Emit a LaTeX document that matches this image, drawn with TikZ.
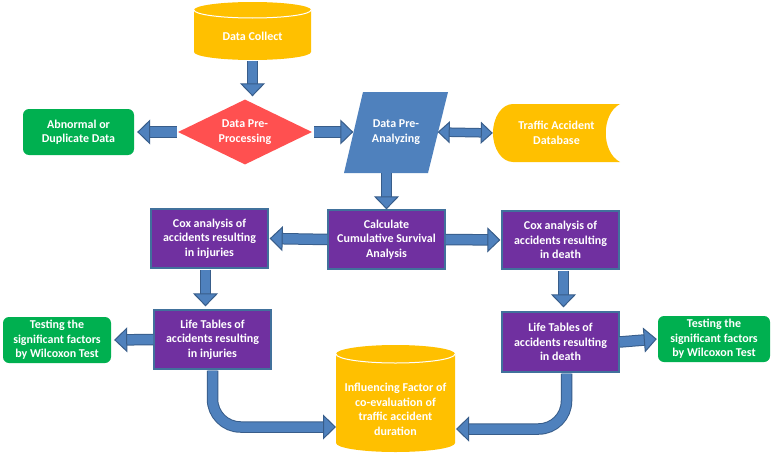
\documentclass[tikz,border=0pt]{standalone}
\usepackage{fontspec}
\setmainfont{Carlito}
\usetikzlibrary{arrows.meta,shapes.geometric,calc}
\definecolor{gold}{HTML}{FFC000}
\definecolor{blueA}{HTML}{4F81BD}
\definecolor{blueD}{HTML}{385D8A}
\definecolor{redD}{HTML}{FF5050}
\definecolor{greenB}{HTML}{00B050}
\definecolor{purp}{HTML}{7030A0}
\definecolor{purpline}{HTML}{41719C}
\tikzset{
  txt/.style={text=white, font=\bfseries\fontsize{12}{14.5}\selectfont, align=center, inner sep=0pt},
  purpbox/.style={txt, rectangle, fill=purp, draw=purpline, line width=1.3pt, minimum width=117pt, minimum height=59pt},
  greenbox/.style={txt, rectangle, rounded corners=6pt, fill=greenB, minimum height=46pt},
  blk/.style={draw=blueA, line width=9.5pt,
    -{Triangle[width=25pt,length=13pt,line width=1pt,color=blueD,fill=blueA]},
    preaction={draw=blueD, line width=11.5pt, -, shorten >=10pt}},
  dblk/.style={draw=blueA, line width=7.5pt,
    {Triangle[width=22pt,length=12pt,line width=1pt,color=blueD,fill=blueA]}-{Triangle[width=22pt,length=12pt,line width=1pt,color=blueD,fill=blueA]},
    preaction={draw=blueD, line width=9.5pt, -, shorten >=9pt, shorten <=9pt}},
}
\begin{document}
\begin{tikzpicture}[x=1pt,y=1pt]
\useasboundingbox[fill=white] (0,0) rectangle (771,-455);
% --- background shapes drawn directly ---
% Data Collect cylinder
\fill[gold] (194,-10) -- (194,-52) arc (180:360:58.5 and 8) -- (311,-10) arc (0:180:58.5 and 8) -- cycle;
\draw[white, line width=1pt] (194,-10) arc (180:360:58.5 and 8);
% Influencing cylinder
\fill[gold] (336,-354) -- (336,-443) arc (180:360:59.5 and 9) -- (455,-354) arc (0:180:59.5 and 9) -- cycle;
\draw[white, line width=1pt] (336,-354) arc (180:360:59.5 and 9);
% Data Pre-Analyzing parallelogram
\fill[blueA] (344,-173) -- (363,-92) -- (448,-92) -- (428,-173) -- cycle;
% Traffic Accident Database (stored data)
\fill[gold] (513,-104) -- (620,-104) .. controls (601,-114) and (601,-152) .. (620,-162) -- (513,-162) arc (270:90:20 and 29) -- cycle;

% --- nodes ---
\node[txt, minimum width=117pt, minimum height=58pt, label={[txt,yshift=-5pt]center:Data Collect}] (dc) at (252.5,-31) {};
\node[txt, diamond, fill=redD, minimum width=134pt, minimum height=65pt, aspect=2.06] (pp) at (245,-132) {Data Pre-\\Processing};
\node[greenbox, minimum width=111pt] (ab) at (78.5,-132) {Abnormal or\\Duplicate Data};
\node[txt, minimum width=85pt, minimum height=81pt] (pa) at (396,-132) {Data Pre-\\Analyzing};
\node[txt, minimum width=127pt, minimum height=58pt] (db) at (556.5,-133) {Traffic Accident\\Database};
\node[purpbox] (calc) at (386.5,-239.5) {Calculate\\Cumulative Survival\\Analysis};
\node[purpbox] (ci) at (209.5,-238.5) {Cox analysis of\\accidents resulting\\in injuries};
\node[purpbox, minimum height=58pt] (cd) at (560.5,-240) {Cox analysis of\\accidents resulting\\in death};
\node[purpbox] (li) at (212.5,-339.5) {Life Tables of\\accidents resulting\\in injuries};
\node[purpbox, minimum height=60pt] (ld) at (560.5,-342) {Life Tables of\\accidents resulting\\in death};
\node[greenbox, minimum width=108pt] (tl) at (57,-340) {Testing the\\significant factors\\by Wilcoxon Test};
\node[greenbox, minimum width=112pt] (tr) at (714,-339) {Testing the\\significant factors\\by Wilcoxon Test};
\node[txt, minimum width=119pt, minimum height=107pt, label={[txt,yshift=-11pt]center:Influencing Factor of\\co-evaluation of\\traffic accident\\duration}] (inf) at (395.5,-398.5) {};
\coordinate (infL) at (336,-427);
\coordinate (infR) at (456,-429);

% --- connectors ---
\draw[blk] ([yshift=-1pt]dc.south) -- ([yshift=3pt]dc.south |- pp.north);
\draw[blk] ([xshift=-1pt]pp.west) -- ([xshift=3pt]ab.east);
\draw[blk] ([xshift=2pt]pp.east) -- ([xshift=0pt]pa.west);
\draw[dblk] ([xshift=-1pt]pa.east) -- (db.west);
\draw[blk] (pa.south -| calc.north) -- (calc.north);
\draw[blk] (calc.west) -- ([xshift=1pt]ci.east);
\draw[blk] (calc.east) -- ([xshift=-1pt]cd.west);
\draw[blk] ([xshift=-4pt,yshift=-1pt]ci.south) -- ([xshift=-4pt,yshift=3pt]ci.south |- li.north);
\draw[blk] ([xshift=3pt,yshift=-1pt]cd.south) -- ([xshift=3pt,yshift=4pt]ld.north);
\draw[blk] (li.west) -- ([xshift=3pt]tl.east);
\draw[blk] (ld.east) -- ([xshift=-1pt]tr.west);
\draw[blk, rounded corners=28pt] ([yshift=-1pt]li.south) |- (infL);
\draw[blk, rounded corners=28pt] ([xshift=6pt,yshift=-1pt]ld.south) |- (infR);
\end{tikzpicture}
\end{document}
